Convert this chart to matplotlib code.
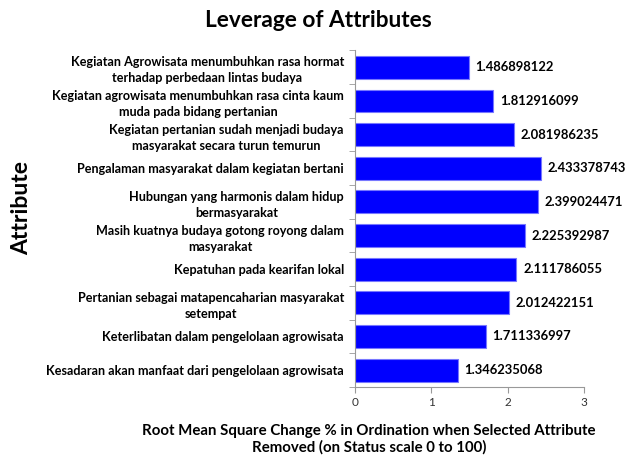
import matplotlib.pyplot as plt
import numpy as np

attributes = [
    "Kegiatan Agrowisata menumbuhkan rasa hormat\nterhadap perbedaan lintas budaya",
    "Kegiatan agrowisata menumbuhkan rasa cinta kaum\nmuda pada bidang pertanian",
    "Kegiatan pertanian sudah menjadi budaya\nmasyarakat secara turun temurun",
    "Pengalaman masyarakat dalam kegiatan bertani",
    "Hubungan yang harmonis dalam hidup\nbermasyarakat",
    "Masih kuatnya budaya gotong royong dalam\nmasyarakat",
    "Kepatuhan pada kearifan lokal",
    "Pertanian sebagai matapencaharian masyarakat\nsetempat",
    "Keterlibatan dalam pengelolaan agrowisata",
    "Kesadaran akan manfaat dari pengelolaan agrowisata",
]
values = [1.486898122, 1.812916099, 2.081986235, 2.433378743, 2.399024471,
          2.225392987, 2.111786055, 2.012422151, 1.711336997, 1.346235068]
xticks = [0, 1, 2, 3]

plt.rcParams['font.family'] = ['Lato', 'DejaVu Sans']
plt.rcParams['font.weight'] = 'bold'

fig = plt.figure(figsize=(6.3, 4.59), dpi=100)
ax = fig.add_axes([0.5635, 0.157, 0.3635, 0.733])

y = np.arange(len(values))
ax.barh(y, values, height=0.68, color='#0000ff', edgecolor='#7777ff', linewidth=0.8)
for yi, v in zip(y, values):
    ax.text(v + 0.09, yi, f"{v:.9f}", va='center', ha='left', fontsize=9.4, fontweight='bold')

ax.set_xlim(0, 3)
ax.set_ylim(len(values) - 0.5, -0.5)
ax.set_xticks(xticks)
ax.set_xticklabels([str(t) for t in xticks], fontweight='normal', fontsize=8.5, color='#333333')
ax.set_yticks(y)
ax.set_yticklabels(attributes, fontsize=9.1, fontweight='bold', linespacing=1.4,
                   multialignment='center')
ax.set_yticks(np.arange(-0.5, len(values), 1), minor=True)
ax.tick_params(axis='y', which='major', length=0, pad=8)
ax.tick_params(axis='y', which='minor', length=4, color='#999999')
ax.tick_params(axis='x', length=4, color='#999999')
for s in ['top', 'right']:
    ax.spines[s].set_visible(False)
for s in ['left', 'bottom']:
    ax.spines[s].set_color('#999999')

fig.text(0.505, 0.956, "Leverage of Attributes", ha='center', va='center', fontsize=16.3, fontweight='bold')
fig.text(0.035, 0.547, "Attribute", rotation=90, ha='center', va='center', fontsize=16.5, fontweight='bold')
fig.text(0.586, 0.043, "Root Mean Square Change % in Ordination when Selected Attribute\nRemoved (on Status scale 0 to 100)",
         ha='center', va='center', fontsize=10.8, fontweight='bold', linespacing=1.25)

fig.savefig('out.png', dpi=100)
